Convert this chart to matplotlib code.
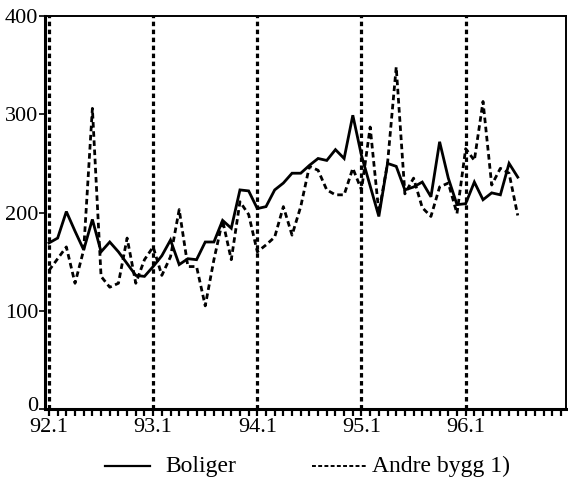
import matplotlib
matplotlib.use("Agg")
import matplotlib.pyplot as plt
from matplotlib.lines import Line2D
from matplotlib.transforms import ScaledTranslation

plt.rcParams['font.family'] = ['Liberation Serif', 'DejaVu Serif']

# Monthly index, 92.1 .. 96.7
boliger = [169, 174, 201, 181, 162, 193, 160, 170, 160, 148, 136, 135,
           145, 156, 172, 147, 153, 152, 170, 170, 192, 184, 223, 222,
           204, 206, 223, 230, 240, 240, 248, 255, 253, 264, 255, 299,
           258, 227, 196, 250, 247, 223, 226, 231, 216, 272, 235, 208,
           209, 231, 213, 220, 218, 250, 236]
andre = [141, 153, 165, 128, 162, 306, 135, 124, 128, 174, 128, 152,
         165, 136, 155, 203, 145, 145, 105, 152, 192, 152, 211, 198,
         160, 167, 175, 206, 177, 206, 247, 243, 223, 218, 218, 245,
         223, 287, 200, 250, 348, 219, 235, 205, 196, 226, 230, 199,
         265, 253, 313, 228, 245, 240, 197]
year_labels = ["92.1", "93.1", "94.1", "95.1", "96.1"]
y_ticks = [0, 100, 200, 300, 400]
legend_labels = ["Boliger", "Andre bygg 1)"]

months = list(range(len(boliger)))
year_pos = [12 * i for i in range(len(year_labels))]

W, H = 568, 494
fig = plt.figure(figsize=(W / 100, H / 100), dpi=100)
ax = fig.add_axes([0.0792, 0.172, 0.9173, 0.7956])

for xp in year_pos:
    ax.axvline(xp, color='black', lw=2.3, ls=(0, (1.4, 1.1)), zorder=1)

ax.plot(months, boliger, color='black', lw=2.0, solid_joinstyle='miter', zorder=3)
ax.plot(months, andre, color='black', lw=2.0, ls=(0, (2.0, 1.3)), zorder=2)

ax.set_xlim(-0.46, 59.56)
ax.set_ylim(0, 400)
ax.set_xticks(year_pos)
ax.set_xticklabels(year_labels, fontsize=16)
ax.set_xticks(range(0, 60), minor=True)
ax.set_yticks(y_ticks)
ax.set_yticklabels([str(v) for v in y_ticks], fontsize=16)
ax.tick_params(axis='x', which='both', direction='out', length=5, width=1.6, pad=1.5)
ax.tick_params(axis='y', which='both', direction='out', length=4, width=1.2, pad=1)
zero_lbl = ax.get_yticklabels()[0]
zero_lbl.set_transform(zero_lbl.get_transform() +
                       ScaledTranslation(0, 5 / 100, fig.dpi_scale_trans))

ax.spines['left'].set_linewidth(2.2)
ax.spines['bottom'].set_linewidth(2.2)
ax.spines['top'].set_linewidth(1.4)
ax.spines['right'].set_linewidth(1.4)

# legend drawn in figure pixel coordinates
ly = 1 - 466 / H
fig.add_artist(Line2D([105 / W, 150 / W], [ly, ly], color='black', lw=1.6))
fig.text(165 / W, ly, legend_labels[0], fontsize=17, va='center', ha='left')
fig.add_artist(Line2D([312 / W, 366 / W], [ly, ly], color='black', lw=1.4,
                      ls=(0, (2, 1.2))))
fig.text(372 / W, ly, legend_labels[1], fontsize=17, va='center', ha='left')

fig.savefig("out.png", dpi=100)
